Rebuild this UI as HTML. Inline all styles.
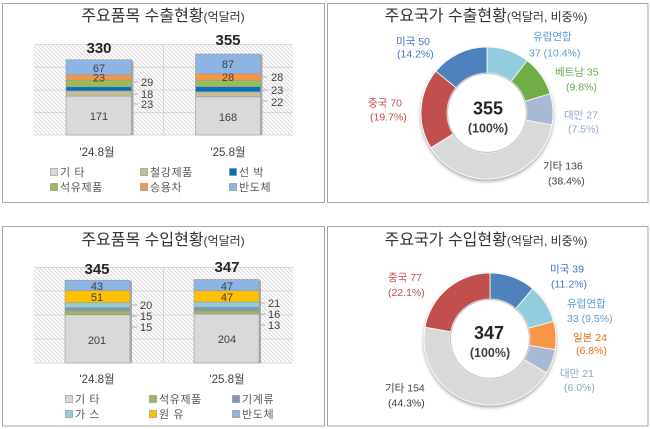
<!DOCTYPE html>
<html><head><meta charset="utf-8">
<style>
html,body{margin:0;padding:0;background:#fff;}
svg{display:block;font-family:"Liberation Sans","Noto Sans CJK KR",sans-serif;}
.t{fill:#333;font-size:16px;}
.ts{font-size:12px;}
.v{fill:#404040;font-size:11px;}
.vb{fill:#262626;font-size:15px;font-weight:bold;}
.cat{fill:#404040;font-size:11.5px;}
.lg{fill:#595959;font-size:11px;letter-spacing:0.6px;}
.dl{font-size:10.5px;}
</style></head><body>
<svg width="650" height="429" viewBox="0 0 650 429" xmlns="http://www.w3.org/2000/svg">
<defs>
<pattern id="hatch" patternUnits="userSpaceOnUse" width="4" height="4">
<rect width="4" height="4" fill="#fff"/>
<path d="M0,0 L4,4 M-1,3 L1,5 M3,-1 L5,1" stroke="#d2d2d2" stroke-width="0.8"/>
</pattern>
<filter id="ds" x="-20%" y="-20%" width="140%" height="140%">
<feDropShadow dx="0" dy="2" stdDeviation="1.8" flood-color="#000" flood-opacity="0.35"/>
</filter>
</defs>

<!-- Panel borders -->
<rect x="2.5" y="3.5" width="322" height="199" fill="#fff" stroke="#a6a6a6"/>
<rect x="327.5" y="3.5" width="320.5" height="199" fill="#fff" stroke="#a6a6a6"/>
<rect x="2.5" y="226.5" width="322" height="199.5" fill="#fff" stroke="#a6a6a6"/>
<rect x="327.5" y="226.5" width="320.5" height="199.5" fill="#fff" stroke="#a6a6a6"/>

<!-- ============ TOP-LEFT: export items ============ -->
<text class="t" x="163" y="21" text-anchor="middle">주요품목 수출현황<tspan class="ts">(억달러)</tspan></text>
<rect x="34" y="44" width="259" height="91" fill="url(#hatch)"/>
<g stroke="#d0d0d0" stroke-width="0.8">
<line x1="34" y1="44.5" x2="293" y2="44.5"/>
<line x1="34" y1="67.2" x2="293" y2="67.2"/>
<line x1="34" y1="90" x2="293" y2="90"/>
<line x1="34" y1="112.7" x2="293" y2="112.7"/>
<line x1="34" y1="135" x2="293" y2="135"/>
<line x1="163.5" y1="44" x2="163.5" y2="135"/>
</g>
<!-- bar1 -->
<rect x="68" y="61" width="65.5" height="74" fill="#8c8c8c" opacity="0.7"/>
<g stroke="#9a9a9a" stroke-width="0.6">
<rect x="66" y="96.1" width="65.5" height="38.9" fill="#d9d9d9"/>
<rect x="66" y="90.87" width="65.5" height="5.23" fill="#c4bd97"/>
<rect x="66" y="86.77" width="65.5" height="4.1" fill="#0070c0"/>
<rect x="66" y="80.17" width="65.5" height="6.6" fill="#9bbb59"/>
<rect x="66" y="74.94" width="65.5" height="5.23" fill="#f79646"/>
<rect x="66" y="59.7" width="65.5" height="15.24" fill="#8db4e2"/>
</g>
<!-- bar2 -->
<rect x="197.5" y="55" width="65" height="80" fill="#8c8c8c" opacity="0.7"/>
<g stroke="#9a9a9a" stroke-width="0.6">
<rect x="195.5" y="96.78" width="65" height="38.22" fill="#d9d9d9"/>
<rect x="195.5" y="91.77" width="65" height="5.01" fill="#c4bd97"/>
<rect x="195.5" y="86.54" width="65" height="5.23" fill="#0070c0"/>
<rect x="195.5" y="80.17" width="65" height="6.37" fill="#9bbb59"/>
<rect x="195.5" y="73.8" width="65" height="6.37" fill="#f79646"/>
<rect x="195.5" y="54.01" width="65" height="19.79" fill="#8db4e2"/>
</g>
<text class="vb" x="99" y="53" text-anchor="middle">330</text>
<text class="vb" x="228" y="45" text-anchor="middle">355</text>
<g class="v" text-anchor="middle">
<text x="99" y="72">67</text>
<text x="99" y="81.5">23</text>
<text x="99" y="120">171</text>
<text x="228" y="68">87</text>
<text x="228" y="81">28</text>
<text x="228" y="121">168</text>
</g>
<g stroke="#a0a0a0" stroke-width="0.8">
<line x1="134" y1="82" x2="138" y2="82"/>
<line x1="134" y1="94" x2="138" y2="94"/>
<line x1="134" y1="104" x2="138" y2="104"/>
<line x1="263" y1="77" x2="267" y2="77"/>
<line x1="263" y1="90" x2="267" y2="90"/>
<line x1="263" y1="101" x2="267" y2="101"/>
</g>
<g class="v">
<text x="141" y="86">29</text>
<text x="141" y="98">18</text>
<text x="141" y="108">23</text>
<text x="271" y="81">28</text>
<text x="271" y="94">23</text>
<text x="271" y="106">22</text>
</g>
<text class="cat" x="97" y="156" text-anchor="middle">'24.8월</text>
<text class="cat" x="228" y="156" text-anchor="middle">'25.8월</text>
<g stroke="#8a8a8a" stroke-width="0.6">
<rect x="50.5" y="168.5" width="7" height="7" fill="#d9d9d9"/>
<rect x="140.5" y="168.5" width="7" height="7" fill="#c4bd97"/>
<rect x="229.5" y="168.5" width="7" height="7" fill="#0070c0"/>
<rect x="50.5" y="183.5" width="7" height="7" fill="#9bbb59"/>
<rect x="140.5" y="183.5" width="7" height="7" fill="#f79646"/>
<rect x="229.5" y="183.5" width="7" height="7" fill="#8db4e2"/>
</g>
<g class="lg">
<text x="60" y="176">기 타</text>
<text x="150" y="176">철강제품</text>
<text x="239" y="176">선 박</text>
<text x="60" y="191">석유제품</text>
<text x="150" y="191">승용차</text>
<text x="239" y="191">반도체</text>
</g>

<!-- ============ BOTTOM-LEFT: import items ============ -->
<text class="t" x="163" y="245" text-anchor="middle">주요품목 수입현황<tspan class="ts">(억달러)</tspan></text>
<rect x="34" y="267" width="259" height="96" fill="url(#hatch)"/>
<g stroke="#d0d0d0" stroke-width="0.8">
<line x1="34" y1="267.5" x2="293" y2="267.5"/>
<line x1="34" y1="291" x2="293" y2="291"/>
<line x1="34" y1="315" x2="293" y2="315"/>
<line x1="34" y1="339" x2="293" y2="339"/>
<line x1="34" y1="363" x2="293" y2="363"/>
<line x1="163.5" y1="267" x2="163.5" y2="363"/>
</g>
<rect x="67" y="281.2" width="65" height="81.8" fill="#8c8c8c" opacity="0.7"/>
<g stroke="#9a9a9a" stroke-width="0.6">
<rect x="65" y="314.76" width="65" height="48.24" fill="#d9d9d9"/>
<rect x="65" y="311.16" width="65" height="3.6" fill="#9bbb59"/>
<rect x="65" y="307.56" width="65" height="3.6" fill="#8497b0"/>
<rect x="65" y="302.76" width="65" height="4.8" fill="#92cddc"/>
<rect x="65" y="290.52" width="65" height="12.24" fill="#ffc000"/>
<rect x="65" y="280.2" width="65" height="10.32" fill="#8db4e2"/>
</g>
<rect x="196" y="280.5" width="65" height="82.5" fill="#8c8c8c" opacity="0.7"/>
<g stroke="#9a9a9a" stroke-width="0.6">
<rect x="194" y="314.04" width="65" height="48.96" fill="#d9d9d9"/>
<rect x="194" y="310.92" width="65" height="3.12" fill="#9bbb59"/>
<rect x="194" y="307.08" width="65" height="3.84" fill="#8497b0"/>
<rect x="194" y="302.04" width="65" height="5.04" fill="#92cddc"/>
<rect x="194" y="290.76" width="65" height="11.28" fill="#ffc000"/>
<rect x="194" y="279.48" width="65" height="11.28" fill="#8db4e2"/>
</g>
<text class="vb" x="97" y="274" text-anchor="middle">345</text>
<text class="vb" x="227" y="272" text-anchor="middle">347</text>
<g class="v" text-anchor="middle">
<text x="97" y="290">43</text>
<text x="97" y="301">51</text>
<text x="97" y="344">201</text>
<text x="227" y="290">47</text>
<text x="227" y="301">47</text>
<text x="227" y="343">204</text>
</g>
<g stroke="#a0a0a0" stroke-width="0.8">
<line x1="132" y1="305" x2="137" y2="305"/>
<line x1="132" y1="316" x2="137" y2="316"/>
<line x1="132" y1="327" x2="137" y2="327"/>
<line x1="261" y1="303" x2="265" y2="303"/>
<line x1="261" y1="314" x2="265" y2="314"/>
<line x1="261" y1="325" x2="265" y2="325"/>
</g>
<g class="v">
<text x="140" y="309">20</text>
<text x="140" y="320">15</text>
<text x="140" y="331">15</text>
<text x="268" y="307">21</text>
<text x="268" y="318">16</text>
<text x="268" y="329">13</text>
</g>
<text class="cat" x="97" y="383" text-anchor="middle">'24.8월</text>
<text class="cat" x="227" y="383" text-anchor="middle">'25.8월</text>
<g stroke="#8a8a8a" stroke-width="0.6">
<rect x="65.5" y="395.5" width="7" height="7" fill="#d9d9d9"/>
<rect x="149.5" y="395.5" width="7" height="7" fill="#9bbb59"/>
<rect x="232.5" y="395.5" width="7" height="7" fill="#8497b0"/>
<rect x="65.5" y="410.5" width="7" height="7" fill="#92cddc"/>
<rect x="149.5" y="410.5" width="7" height="7" fill="#ffc000"/>
<rect x="232.5" y="410.5" width="7" height="7" fill="#8db4e2"/>
</g>
<g class="lg">
<text x="75" y="403">기 타</text>
<text x="159" y="403">석유제품</text>
<text x="242" y="403">기계류</text>
<text x="75" y="418">가 스</text>
<text x="159" y="418">원 유</text>
<text x="242" y="418">반도체</text>
</g>

<!-- ============ TOP-RIGHT: export countries donut ============ -->
<text class="t" x="486" y="21" text-anchor="middle">주요국가 수출현황<tspan class="ts">(억달러, 비중%)</tspan></text>
<g filter="url(#ds)" stroke="#ffffff" stroke-width="0.8">
<path d="M487,47 A66,66 0 0 1 527.19,60.65 L511.36,81.27 A40,40 0 0 0 487,73 Z" fill="#93cddd"/>
<path d="M527.19,60.65 A66,66 0 0 1 550.12,93.71 L525.26,101.31 A40,40 0 0 0 511.36,81.27 Z" fill="#70ad47"/>
<path d="M550.12,93.71 A66,66 0 0 1 551.92,124.9 L526.34,120.21 A40,40 0 0 0 525.26,101.31 Z" fill="#a9b8d3"/>
<path d="M551.92,124.9 A66,66 0 0 1 430.85,147.68 L452.97,134.02 A40,40 0 0 0 526.34,120.21 Z" fill="#d9d9d9"/>
<path d="M430.85,147.68 A66,66 0 0 1 435.92,71.2 L456.04,87.67 A40,40 0 0 0 452.97,134.02 Z" fill="#c0504d"/>
<path d="M435.92,71.2 A66,66 0 0 1 487,47 L487,73 A40,40 0 0 0 456.04,87.67 Z" fill="#4f81bd"/>
</g>
<circle cx="487" cy="113" r="39.5" fill="#fff" stroke="#c8c8c8" stroke-width="1.2"/>
<text x="488" y="114.5" text-anchor="middle" font-size="18" font-weight="bold" fill="#262626">355</text>
<text x="488" y="132.5" text-anchor="middle" font-size="12.5" font-weight="bold" fill="#404040">(100%)</text>
<g class="dl">
<text x="396" y="45" fill="#4472c4">미국 50</text>
<text x="397" y="57.5" fill="#4472c4">(14.2%)</text>
<text x="533" y="40" fill="#5b9bd5">유럽연합</text>
<text x="529" y="56.5" fill="#5b9bd5">37 (10.4%)</text>
<text x="555" y="75.5" fill="#6aa84f">베트남 35</text>
<text x="566" y="90.5" fill="#6aa84f">(9.8%)</text>
<text x="564" y="118.5" fill="#8ea6cf">대만 27</text>
<text x="568" y="132.5" fill="#8ea6cf">(7.5%)</text>
<text x="543" y="169.5" fill="#404040">기타 136</text>
<text x="548" y="184.5" fill="#404040">(38.4%)</text>
<text x="368" y="106.5" fill="#c0504d">중국 70</text>
<text x="370" y="120.5" fill="#c0504d">(19.7%)</text>
</g>

<!-- ============ BOTTOM-RIGHT: import countries donut ============ -->
<text class="t" x="486" y="245" text-anchor="middle">주요국가 수입현황<tspan class="ts">(억달러, 비중%)</tspan></text>
<g filter="url(#ds)" stroke="#ffffff" stroke-width="0.8">
<path d="M490,273 A66,66 0 0 1 532.72,288.69 L515.89,308.51 A40,40 0 0 0 490,299 Z" fill="#4f81bd"/>
<path d="M532.72,288.69 A66,66 0 0 1 553.59,321.34 L528.54,328.3 A40,40 0 0 0 515.89,308.51 Z" fill="#93cddd"/>
<path d="M553.59,321.34 A66,66 0 0 1 555.13,349.68 L529.47,345.47 A40,40 0 0 0 528.54,328.3 Z" fill="#f79646"/>
<path d="M555.13,349.68 A66,66 0 0 1 546.56,373.02 L524.28,359.62 A40,40 0 0 0 529.47,345.47 Z" fill="#a9b8d3"/>
<path d="M546.56,373.02 A66,66 0 0 1 425.07,327.15 L450.65,331.82 A40,40 0 0 0 524.28,359.62 Z" fill="#d9d9d9"/>
<path d="M425.07,327.15 A66,66 0 0 1 490,273 L490,299 A40,40 0 0 0 450.65,331.82 Z" fill="#c0504d"/>
</g>
<circle cx="490" cy="339" r="39.5" fill="#fff" stroke="#c8c8c8" stroke-width="1.2"/>
<text x="489" y="339" text-anchor="middle" font-size="18" font-weight="bold" fill="#262626">347</text>
<text x="490" y="357" text-anchor="middle" font-size="12.5" font-weight="bold" fill="#404040">(100%)</text>
<g class="dl">
<text x="388" y="281" fill="#c0504d">중국 77</text>
<text x="388" y="296" fill="#c0504d">(22.1%)</text>
<text x="550" y="272.5" fill="#4472c4">미국 39</text>
<text x="551" y="287.5" fill="#4472c4">(11.2%)</text>
<text x="567" y="307" fill="#5b9bd5">유럽연합</text>
<text x="567" y="322" fill="#5b9bd5">33 (9.5%)</text>
<text x="573" y="341" fill="#e46c0a">일본 24</text>
<text x="576" y="354" fill="#e46c0a">(6.8%)</text>
<text x="560" y="377" fill="#8ea6cf">대만 21</text>
<text x="564" y="391" fill="#8ea6cf">(6.0%)</text>
<text x="385" y="391.5" fill="#404040">기타 154</text>
<text x="388" y="406.5" fill="#404040">(44.3%)</text>
</g>
</svg>
</body></html>
